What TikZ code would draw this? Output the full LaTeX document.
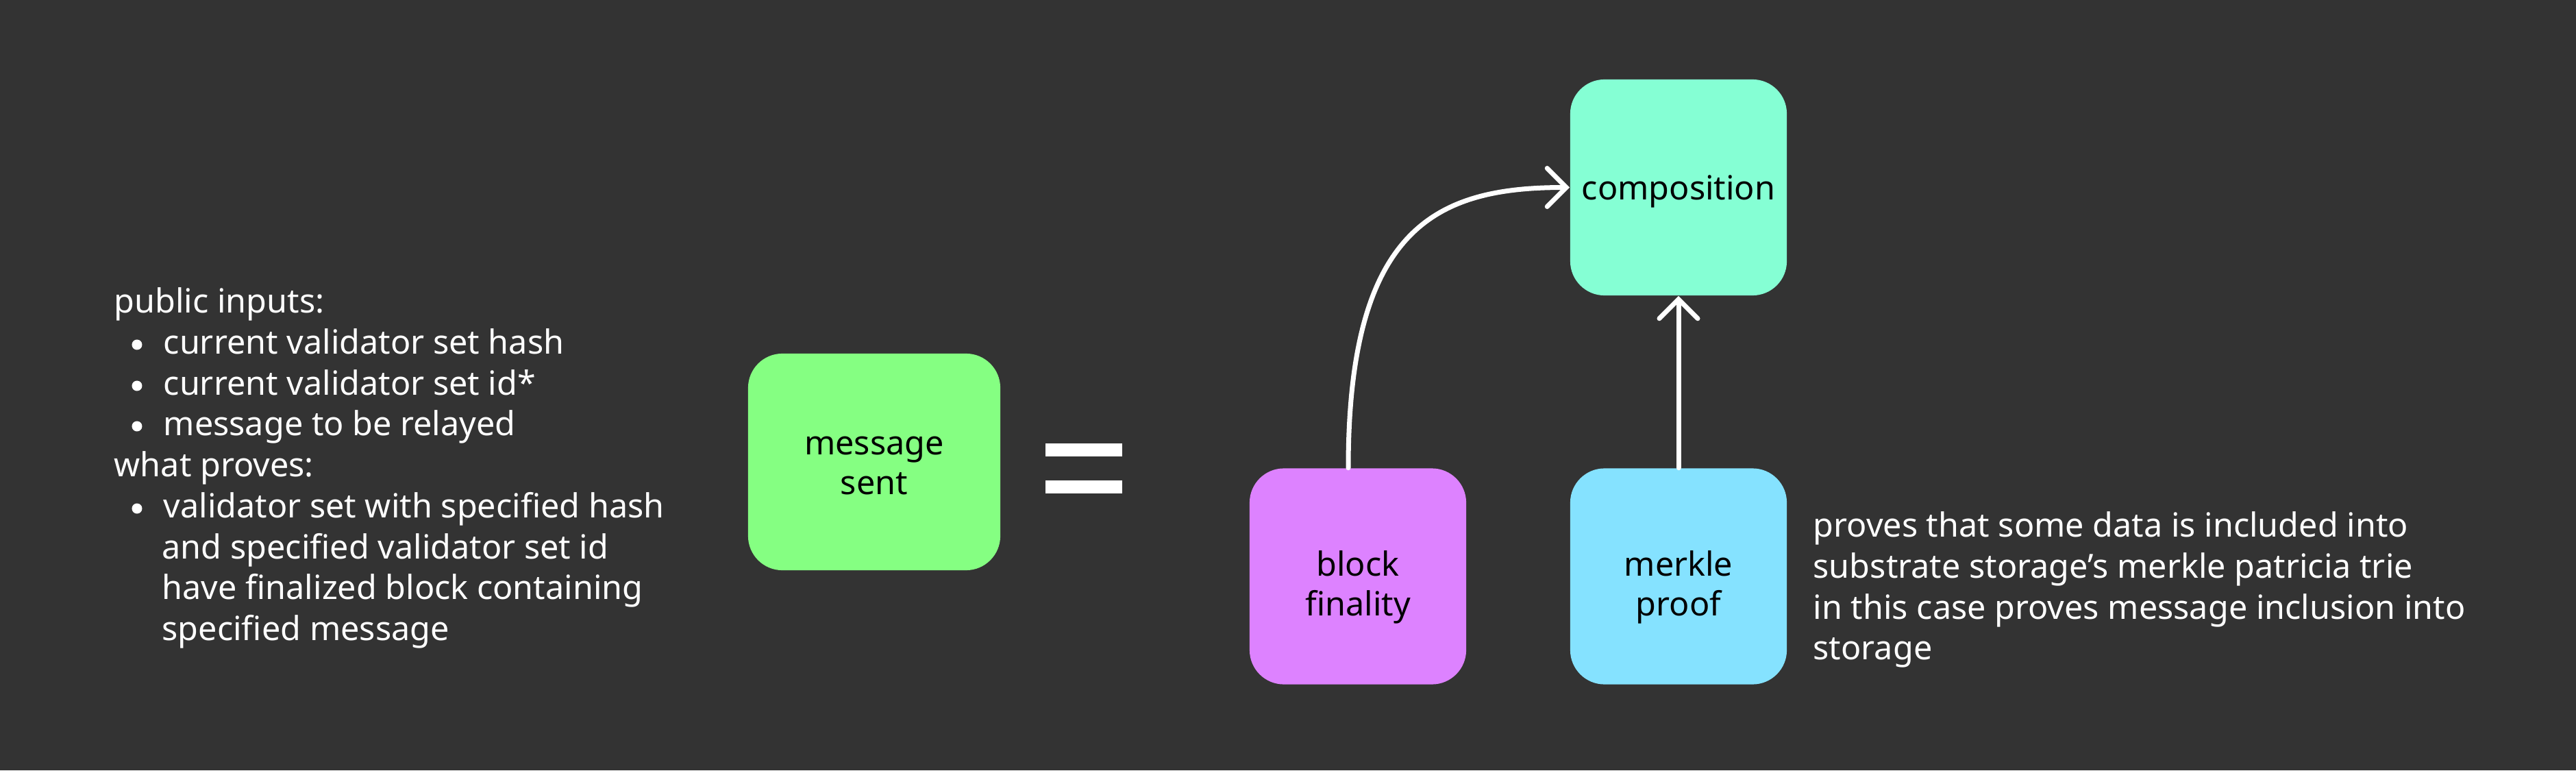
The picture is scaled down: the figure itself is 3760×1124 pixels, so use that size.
\documentclass[tikz,border=0pt]{standalone}
\usepackage{fontspec}
\setmainfont{Noto Sans}
\usetikzlibrary{arrows.meta}
\definecolor{bgc}{HTML}{333333}
\definecolor{msgc}{HTML}{85FF82}
\definecolor{compc}{HTML}{85FFD4}
\definecolor{blkc}{HTML}{DD82FF}
\definecolor{mrkc}{HTML}{85E2FF}
\newcommand\txtfont{\fontsize{13.8}{17.07}\selectfont}
\newcommand\boxfont{\fontsize{13.8}{16.5}\selectfont}
\newcommand\twol[2]{\begin{tabular}[b]{@{}c@{}}#1\\#2\end{tabular}}
\begin{document}
\begin{tikzpicture}[x=0.01cm,y=-0.01cm,
  box/.style={rounded corners=0.5cm, minimum width=3.16cm, minimum height=3.15cm, inner sep=0pt, text=black, font=\boxfont, text depth=0cm},
  wtext/.style={anchor=base west, inner sep=0pt, text=white, font=\txtfont},
  bulletdot/.style={fill=white},
  arr/.style={draw=white, line width=0.07cm, line cap=round, -{Straight Barb[length=0.28cm,width=0.56cm,line cap=round]}}
]
\useasboundingbox (0,0) rectangle (3760,1124);
\fill[bgc] (0,0) rectangle (3760,1124);

% boxes
\node[box, fill=msgc, minimum width=3.68cm, minimum height=3.16cm, text height=0.94cm] (msg) at (1276,674) {\twol{message}{sent}};
\node[box, fill=compc, text height=0.35cm] (comp) at (2450,273.5) {composition};
\node[box, fill=blkc, text height=1.14cm] (blk) at (1982,841) {\twol{block}{finality}};
\node[box, fill=mrkc, text height=1.14cm] (mrk) at (2450,841) {\twol{merkle}{proof}};

% equal sign
\fill[white] (1526,647) rectangle (1638,666);
\fill[white] (1526,701) rectangle (1638,720);

% arrows
\draw[arr] ([xshift=-0.14cm]blk.north) .. controls +(0,-354) and +(-192,0) .. (comp.west);
\draw[arr] (mrk.north) -- (comp.south);

% left text
\node[wtext] (l1) at (166,456) {public inputs:};
\node[wtext] (l2) at (238,516) {current validator set hash};
\node[wtext] (l3) at (238,576) {current validator set id*};
\node[wtext] (l4) at (238,635) {message to be relayed};
\node[wtext] (l5) at (166,695) {what proves:};
\node[wtext] (l6) at (238,755) {validator set with specified hash};
\node[wtext] (l7) at (236,815) {and specified validator set id};
\node[wtext] (l8) at (236,874) {have finalized block containing};
\node[wtext] (l9) at (236,934) {specified message};
\foreach \l in {l2,l3,l4,l6}
  \fill[bulletdot] ([xshift=-0.38cm,yshift=0.13cm]\l.base west) circle (0.075cm);

% right text
\node[wtext] (r1) at (2646,783) {proves that some data is included into};
\node[wtext] (r2) at (2646,843) {substrate storage’s merkle patricia trie};
\node[wtext] (r3) at (2646,903) {in this case proves message inclusion into};
\node[wtext] (r4) at (2646,962) {storage};
\end{tikzpicture}
\end{document}
